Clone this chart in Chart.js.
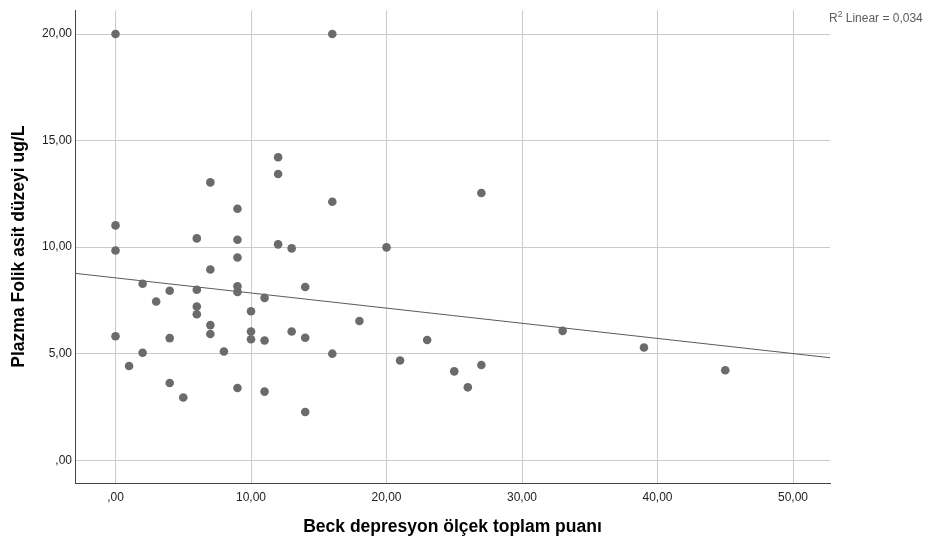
<!DOCTYPE html>
<html>
<head>
<meta charset="utf-8">
<script src="https://cdn.jsdelivr.net/npm/chart.js@4.4.1/dist/chart.umd.min.js"></script>
<style>
  body { margin: 0; background: #fff; }
  canvas { display: block; }
</style>
</head>
<body>
<canvas id="scatterChart" width="926" height="543"></canvas>
<script>
// Beck score (x) vs plasma folic acid (y)
const beckScores = [0, 16, 12, 12, 7, 16, 27, 9, 0, 6, 9, 12, 13, 20, 0, 9, 7, 2, 4, 6,
  9, 9, 14, 3, 11, 6, 6, 10, 18, 7, 7, 10, 13, 33, 10, 11, 14, 0, 4, 23,
  39, 2, 8, 16, 21, 27, 1, 45, 25, 4, 26, 9, 11, 5, 14];
const folicAcid = [20.0, 20.0, 14.22, 13.43, 13.04, 12.13, 12.54, 11.8, 11.02, 10.41, 10.35, 10.13, 9.94, 9.99, 9.84, 9.51, 8.95, 8.28, 7.95, 8.0,
  8.16, 7.9, 8.13, 7.45, 7.62, 7.21, 6.85, 6.99, 6.53, 6.34, 5.92, 6.04, 6.04, 6.07, 5.68, 5.62, 5.75, 5.82, 5.73, 5.64,
  5.29, 5.04, 5.1, 5.0, 4.68, 4.47, 4.42, 4.22, 4.17, 3.62, 3.42, 3.39, 3.22, 2.94, 2.26];

// fit line ends (x, y) at the axis edges
const fitX = [-2.99, 52.73];
const fitY = [8.77, 4.81];

const xTicks = [0, 10, 20, 30, 40, 50];
const yTicks = [0, 5, 10, 15, 20];
const rSquaredLabel = "0,034";

const fmt = v => (v === 0 ? ",00" : v.toFixed(2).replace(".", ","));
const fontFamily = "'Liberation Sans', Arial, sans-serif";

const points = beckScores.map((x, i) => ({ x: x, y: folicAcid[i] }));
const fitLine = fitX.map((x, i) => ({ x: x, y: fitY[i] }));

const rLabel = {
  id: "rLabel",
  afterDraw(chart) {
    const ctx = chart.ctx;
    ctx.save();
    ctx.fillStyle = "#5c5c5c";
    ctx.textBaseline = "alphabetic";
    ctx.font = "12px " + fontFamily;
    let x = 829;
    ctx.fillText("R", x, 22);
    x += ctx.measureText("R").width;
    ctx.font = "8.5px " + fontFamily;
    ctx.fillText("2", x, 17);
    x += ctx.measureText("2").width;
    ctx.font = "12px " + fontFamily;
    ctx.fillText(" Linear = " + rSquaredLabel, x, 22);
    ctx.restore();
  }
};

(function() {
  const ctx = document.getElementById("scatterChart").getContext("2d");
  window.scatterChart = new Chart(ctx, {
    type: "scatter",
    data: {
      datasets: [
        {
          data: points,
          backgroundColor: "#6b6b6b",
          borderWidth: 0,
          pointRadius: 4.3,
          pointHoverRadius: 4.3
        },
        {
          type: "line",
          data: fitLine,
          borderColor: "#5a5a5a",
          borderWidth: 1,
          pointRadius: 0,
          fill: false
        }
      ]
    },
    options: {
      responsive: false,
      animation: false,
      layout: {
        padding: { top: 8, right: 96, left: 0, bottom: 0 }
      },
      plugins: {
        legend: { display: false },
        tooltip: { enabled: false }
      },
      scales: {
        x: {
          type: "linear",
          min: fitX[0],
          max: fitX[1],
          afterBuildTicks: s => { s.ticks = xTicks.map(v => ({ value: v })); },
          afterFit: s => { s.height = 60; },
          ticks: {
            callback: fmt,
            font: { family: fontFamily, size: 12 },
            color: "#222",
            padding: 7
          },
          grid: { color: "#cbcbcb", drawTicks: false },
          border: { color: "#444" },
          title: {
            display: true,
            text: "Beck depresyon ölçek toplam puanı",
            font: { family: fontFamily, size: 17.5, weight: "bold" },
            color: "#000",
            padding: { top: 0, bottom: 5 }
          }
        },
        y: {
          type: "linear",
          min: -1.07,
          max: 21.12,
          afterBuildTicks: s => { s.ticks = yTicks.map(v => ({ value: v })); },
          afterFit: s => { s.width = 75; },
          ticks: {
            callback: fmt,
            font: { family: fontFamily, size: 12 },
            color: "#222",
            padding: 3
          },
          grid: { color: "#cbcbcb", drawTicks: false },
          border: { color: "#444" },
          title: {
            display: true,
            text: "Plazma Folik asit düzeyi ug/L",
            font: { family: fontFamily, size: 17.5, weight: "bold" },
            color: "#000",
            padding: { top: 9, bottom: 0 }
          }
        }
      }
    },
    plugins: [rLabel]
  });
})();
</script>
</body>
</html>
